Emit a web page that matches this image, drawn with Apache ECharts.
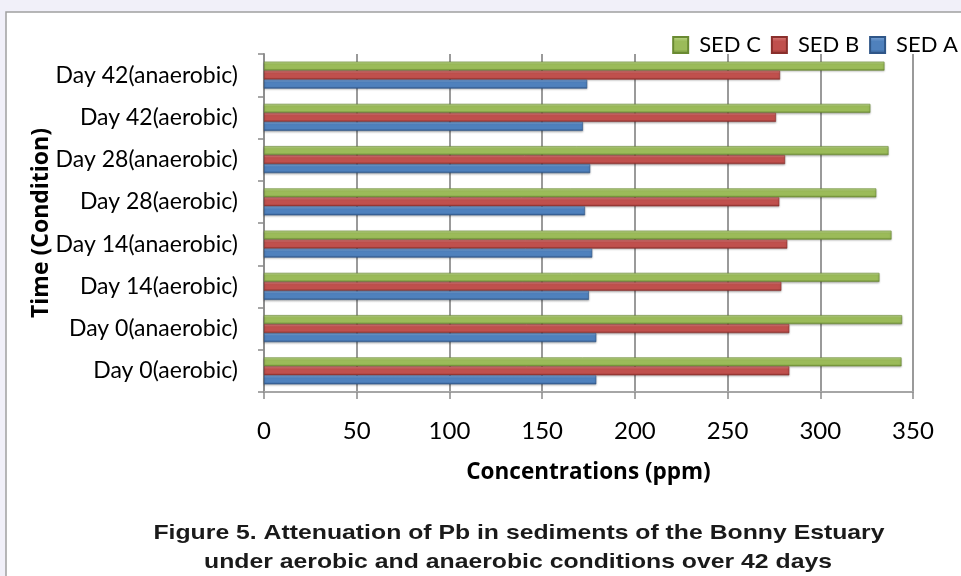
<!DOCTYPE html>
<html>
<head>
<meta charset="utf-8">
<script src="https://cdn.jsdelivr.net/npm/echarts@6/dist/echarts.min.js"></script>
<style>
  html, body { margin: 0; padding: 0; }
  #chart { width: 961px; height: 576px; }
</style>
</head>
<body>
<div id="chart"></div>
<script>
// categories from bottom to top
var categories = [
  'Day 0(aerobic)', 'Day 0(anaerobic)',
  'Day 14(aerobic)', 'Day 14(anaerobic)',
  'Day 28(aerobic)', 'Day 28(anaerobic)',
  'Day 42(aerobic)', 'Day 42(anaerobic)'
];
var sedA = [179.2, 179.2, 175.2, 177.0, 173.1, 175.9, 172.0, 174.3];
var sedB = [283.3, 283.3, 279.0, 282.2, 277.9, 281.0, 276.1, 278.3];
var sedC = [343.8, 344.1, 331.9, 338.4, 330.2, 336.8, 327.0, 334.6];
var xTicks = [0, 50, 100, 150, 200, 250, 300, 350];

var FONT = 'Lato';
var BOLD = '"Open Sans"';

function shade(light, mid, dark) {
  return new echarts.graphic.LinearGradient(0, 0, 0, 1, [
    { offset: 0, color: light },
    { offset: 0.3, color: mid },
    { offset: 0.75, color: mid },
    { offset: 1, color: dark }
  ]);
}

function barSeries(name, data, light, mid, dark) {
  return {
    name: name,
    type: 'bar',
    data: data,
    barWidth: 9,
    barGap: '0%',
    itemStyle: {
      color: shade(light, mid, dark),
      borderColor: dark,
      borderWidth: 0.6,
      shadowColor: 'rgba(0,0,0,0.25)',
      shadowBlur: 2,
      shadowOffsetY: 1
    }
  };
}

var chart = echarts.init(document.getElementById('chart'));
chart.setOption({
  backgroundColor: '#f1f0f9',
  animation: false,
  graphic: [
    {
      type: 'rect',
      z: -10,
      shape: { x: 6, y: 12, width: 1000, height: 600 },
      style: { fill: '#ffffff', stroke: '#a0a0a0', lineWidth: 1.5 }
    },
    {
      type: 'text',
      x: 519, y: 533, scaleX: 1.18,
      style: {
        text: 'Figure 5. Attenuation of Pb in sediments of the Bonny Estuary',
        font: 'bold 21px "Liberation Sans", Arial, sans-serif',
        fill: '#1a1a1a', align: 'center', verticalAlign: 'middle'
      }
    },
    {
      type: 'text',
      x: 518, y: 562, scaleX: 1.18,
      style: {
        text: 'under aerobic and anaerobic conditions over 42 days',
        font: 'bold 21px "Liberation Sans", Arial, sans-serif',
        fill: '#1a1a1a', align: 'center', verticalAlign: 'middle'
      }
    }
  ],
  legend: {
    data: ['SED C', 'SED B', 'SED A'],
    right: -2,
    top: 29,
    icon: 'rect',
    itemWidth: 15,
    itemHeight: 16,
    itemGap: 10,
    textStyle: { fontFamily: FONT, fontSize: 22, color: '#000', padding: [0, 0, 0, 6] }
  },
  grid: { left: 264, right: 48, top: 54, bottom: 184 },
  xAxis: {
    type: 'value',
    min: 0,
    max: 350,
    interval: 50,
    name: 'Concentrations (ppm)',
    nameLocation: 'middle',
    nameGap: 69,
    nameMoveOverlap: false,
    nameTextStyle: { fontFamily: BOLD, fontSize: 22.5, fontWeight: 'bold', color: '#000' },
    axisLine: { show: true, lineStyle: { color: '#a6a6a6', width: 2 } },
    axisTick: { show: true, length: 7, lineStyle: { color: '#8a8a8a', width: 1.5 } },
    axisLabel: {
      margin: 27,
      fontFamily: FONT, fontSize: 24, color: '#000',
      formatter: function (v) { return xTicks.indexOf(v) >= 0 ? String(v) : ''; }
    },
    splitLine: { show: true, lineStyle: { color: '#8f8f8f', width: 1.8 } }
  },
  yAxis: {
    type: 'category',
    data: categories,
    name: 'Time (Condition)',
    nameLocation: 'middle',
    nameGap: 211,
    nameMoveOverlap: false,
    nameTextStyle: { fontFamily: BOLD, fontSize: 23, fontWeight: 'bold', color: '#000' },
    axisLine: { show: true, lineStyle: { color: '#8f8f8f', width: 2 } },
    axisTick: { show: true, length: 6, lineStyle: { color: '#8a8a8a', width: 1.5 } },
    axisLabel: { margin: 26, fontFamily: FONT, fontSize: 23, color: '#000' }
  },
  // first series is drawn at the top of each group
  series: [
    barSeries('SED C', sedC, '#c3de93', '#9bbb59', '#6a8a32'),
    barSeries('SED B', sedB, '#de8583', '#c0504d', '#8a2f2c'),
    barSeries('SED A', sedA, '#86acdc', '#4f81bd', '#2f5688')
  ]
});
</script>
</body>
</html>
